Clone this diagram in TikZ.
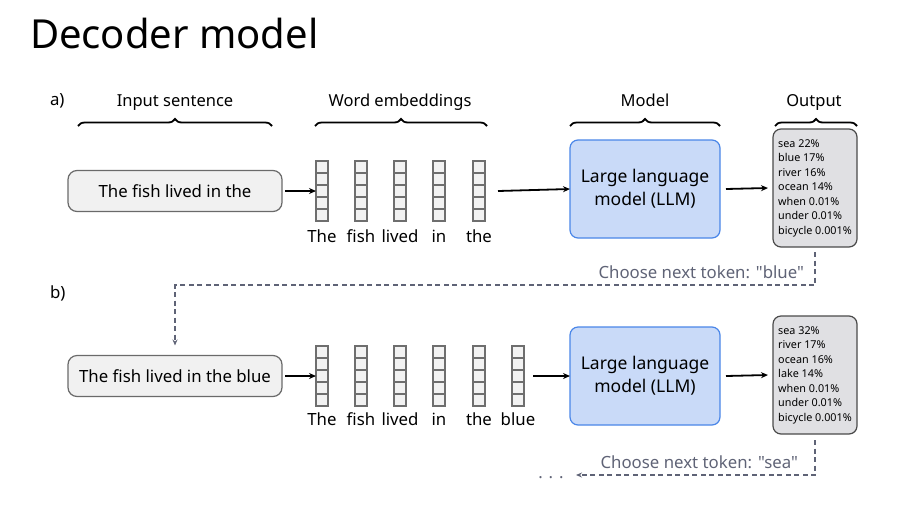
\documentclass[tikz,border=0pt]{standalone}
\usepackage{fontspec}
\setmainfont{Noto Sans}[Ligatures=TeXOff]
\usetikzlibrary{decorations.pathreplacing,arrows.meta,calc}
\definecolor{inbox}{HTML}{F1F1F1}
\definecolor{inborder}{HTML}{6A6A6A}
\definecolor{llmfill}{HTML}{C9DAF8}
\definecolor{llmborder}{HTML}{4A86E8}
\definecolor{outfill}{HTML}{E0E0E3}
\definecolor{outborder}{HTML}{4A4A4A}
\definecolor{cellfill}{HTML}{F2F2F2}
\definecolor{cellborder}{HTML}{6E6E6E}
\definecolor{dashgray}{HTML}{5F6376}
\begin{document}
\begin{tikzpicture}[x=1pt,y=-1pt,
  every node/.style={inner sep=0pt,outer sep=0pt},
  mainfont/.style={font=\fontsize{16.8}{20}\selectfont},
  inputbox/.style={draw=inborder,fill=inbox,rounded corners=9pt,line width=1.2pt,minimum width=214pt,minimum height=41pt,mainfont},
  llmbox/.style={draw=llmborder,fill=llmfill,rounded corners=8pt,line width=1.2pt,minimum width=150pt,minimum height=98pt,align=center,font=\fontsize{17.5}{23}\selectfont},
  outbox/.style={draw=outborder,fill=outfill,rounded corners=8pt,line width=1.2pt,minimum width=84pt,minimum height=118pt,align=left,font=\fontsize{10.8}{14.5}\selectfont,inner xsep=4pt},
  emb/.style={draw=cellborder,fill=cellfill,line width=1.4pt,minimum width=12pt,minimum height=60pt},
  emblabel/.style={mainfont,anchor=base},
  header/.style={font=\fontsize{16.5}{20}\selectfont,anchor=base},
  bracestyle/.style={decorate,decoration={brace,amplitude=7pt},line width=1.8pt},
  flow/.style={line width=1.8pt,-{Stealth[length=7pt,width=6pt]}},
  choose/.style={dashgray,dashed,dash pattern=on 5pt off 3.5pt,line width=1.3pt,-{Stealth[length=6pt,width=5pt]}},
  chooselabel/.style={text=dashgray,mainfont,anchor=base east}
]
\useasboundingbox (0,0) rectangle (904,504);

% title
\node[anchor=base west,font=\fontsize{40}{46}\selectfont] (title) at (30,48) {Decoder model};

% section labels
\node[anchor=base west,mainfont] (la) at (50,105) {a)};
\node[anchor=base west,mainfont] (lb) at (50,298) {b)};

% headers and braces
\node[header] (h1) at (175,106) {Input sentence};
\node[header] (h2) at (400,106) {Word embeddings};
\node[header] (h3) at (645,106) {Model};
\node[header] (h4) at (814,106) {Output};
\draw[bracestyle] (78,126) -- (272,126);
\draw[bracestyle] (315,126) -- (487,126);
\draw[bracestyle] (570,126) -- (720,126);
\draw[bracestyle] (775,126) -- (857,126);

% ---------- row a ----------
\node[inputbox] (ia) at (175,191) {The fish lived in the};
\foreach \i/\x/\w in {1/322/The,2/361/fish,3/400/lived,4/439/in,5/479/the}{
  \node[emb] (ea\i) at (\x,191) {};
  \foreach \k in {1,2,3,4}{\draw[cellborder,line width=1.4pt] ($(ea\i.north west)+(0,12*\k)$) -- ($(ea\i.north east)+(0,12*\k)$);}
  \node[emblabel] (wa\i) at (\x,242) {\w};
}
\node[llmbox] (ma) at (645,189) {Large language\\model (LLM)};
\node[outbox] (oa) at (815,188) {sea 22\%\\blue 17\%\\river 16\%\\ocean 14\%\\when 0.01\%\\under 0.01\%\\bicycle 0.001\%};

\draw[flow] (ia.east) ++(3,0) -- (ea1.west);
\draw[flow] (ea5.east) ++(13,0) -- (ma.west);
\draw[flow] (ma.east) ++(6,0) -- ($(oa.west)+(-5,0)$);

% ---------- row b ----------
\node[inputbox] (ib) at (175,376) {The fish lived in the blue};
\foreach \i/\x/\w in {1/322/The,2/361/fish,3/400/lived,4/439/in,5/479/the,6/518/blue}{
  \node[emb] (eb\i) at (\x,376) {};
  \foreach \k in {1,2,3,4}{\draw[cellborder,line width=1.4pt] ($(eb\i.north west)+(0,12*\k)$) -- ($(eb\i.north east)+(0,12*\k)$);}
  \node[emblabel] (wb\i) at (\x,425) {\w};
}
\node[llmbox] (mb) at (645,376) {Large language\\model (LLM)};
\node[outbox] (ob) at (815,375) {sea 32\%\\river 17\%\\ocean 16\%\\lake 14\%\\when 0.01\%\\under 0.01\%\\bicycle 0.001\%};

\draw[flow] (ib.east) ++(3,0) -- (eb1.west);
\draw[flow] (eb6.east) ++(9,0) -- (mb.west);
\draw[flow] (mb.east) ++(6,0) -- ($(ob.west)+(-5,0)$);

% ---------- choose next token ----------
\draw[choose,shorten <=5pt,shorten >=10pt] (oa.south) -- ++(0,38) -| (ib.north);
\node[chooselabel] (ca) at (804,278) {Choose next token: "blue"};

\coordinate (next) at (576,475);
\draw[choose,shorten <=6pt] (ob.south) |- (next);
\node[anchor=base,text=dashgray,mainfont] (dots) at (551,478) {. . .};
\node[chooselabel] (cb) at (798,468) {Choose next token: "sea"};
\end{tikzpicture}
\end{document}
